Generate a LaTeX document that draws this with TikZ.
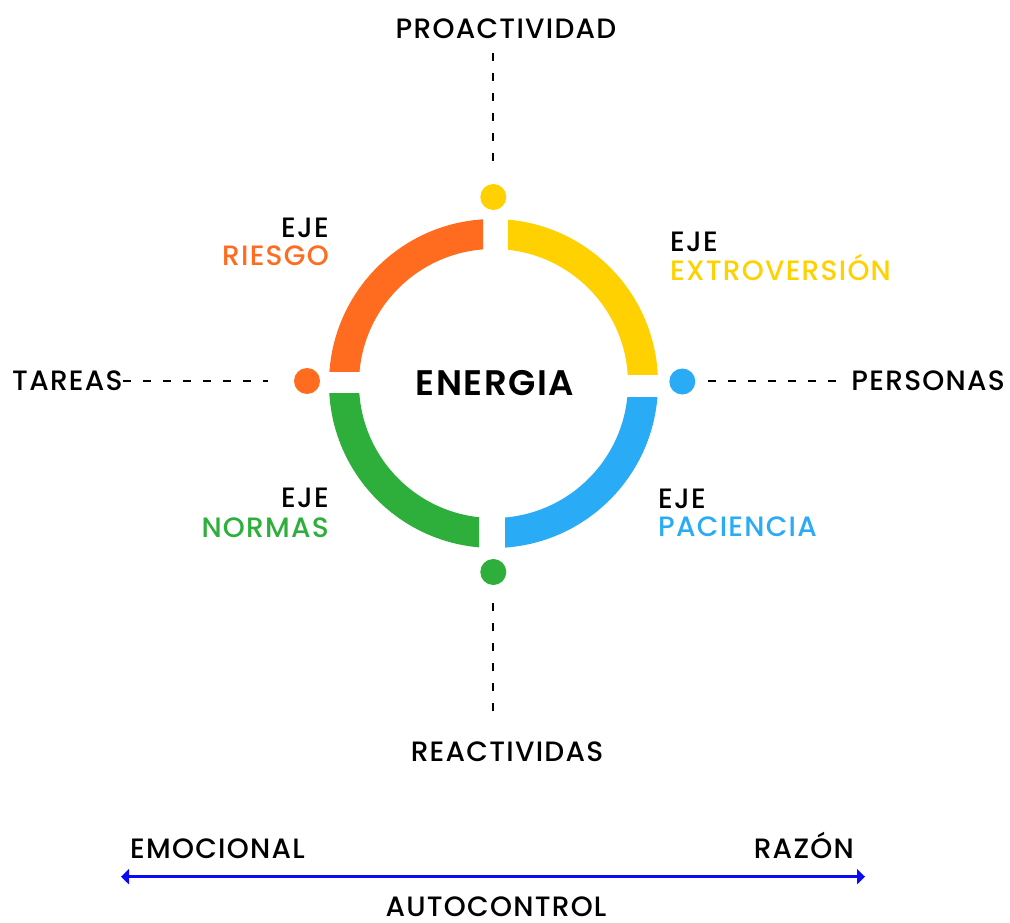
\documentclass[tikz,border=0pt]{standalone}
\usepackage{fontspec}
\setmainfont{Poppins}[UprightFont={* Medium}, BoldFont={* SemiBold}, LetterSpace=4.5]
\usetikzlibrary{arrows.meta}
\definecolor{cOrange}{HTML}{FF6B1F}
\definecolor{cYellow}{HTML}{FFD100}
\definecolor{cGreen}{HTML}{2EAF3B}
\definecolor{cBlue}{HTML}{29ABF6}
\definecolor{cArrow}{HTML}{0A0AF5}
\tikzset{
  lbl/.style={inner sep=0pt, font=\fontsize{28}{32}\selectfont, text=black},
  dotnode/.style={circle, inner sep=0pt, minimum size=26pt},
  dashline/.style={line width=2pt, dash pattern=on 8pt off 12pt},
  ring/.style={even odd rule},
}
\begin{document}
\begin{tikzpicture}[x=1pt,y=-1pt]
\useasboundingbox (0,0) rectangle (1010,923);
\coordinate (c) at (493.5,383.5);
% ring quadrants
\begin{scope}
  \clip (0,0) rectangle (483,371);
  \fill[cOrange, ring] (c) circle (164.5) (c) circle (134.5);
\end{scope}
\begin{scope}
  \clip (508,0) rectangle (1010,374);
  \fill[cYellow, ring] (c) circle (164.5) (c) circle (134.5);
\end{scope}
\begin{scope}
  \clip (505,397) rectangle (1010,923);
  \fill[cBlue, ring] (c) circle (164.5) (c) circle (134.5);
\end{scope}
\begin{scope}
  \clip (0,393) rectangle (479,923);
  \fill[cGreen, ring] (c) circle (164.5) (c) circle (134.5);
\end{scope}
% dots
\node[dotnode, fill=cYellow] (dtop) at (493.3,197) {};
\node[dotnode, fill=cBlue] (dright) at (682.3,381.5) {};
\node[dotnode, fill=cOrange] (dleft) at (307,381) {};
\node[dotnode, fill=cGreen] (dbot) at (493.3,572) {};
% labels
\node[lbl, anchor=base] (pro) at (506,38.3) {PROACTIVIDAD};
\node[lbl, anchor=base] (rea) at (507,761.7) {REACTIVIDAS};
\node[lbl, anchor=base west] (tar) at (12,390.7) {TAREAS};
\node[lbl, anchor=base east] (per) at (1005,390.7) {PERSONAS};
\node[inner sep=0pt, anchor=base, font=\fontsize{35.5}{40}\selectfont\bfseries] (ene) at (495,395.7) {ENERGIA};
\node[lbl, anchor=base east] (e1) at (329,237.7) {EJE};
\node[lbl, anchor=base east, text=cOrange] (riesgo) at (329,265.7) {RIESGO};
\node[lbl, anchor=base west] (e2) at (670,251.7) {EJE};
\node[lbl, anchor=base west, text=cYellow] (extro) at (670,280) {EXTROVERSIÓN};
\node[lbl, anchor=base east] (e3) at (329,507.7) {EJE};
\node[lbl, anchor=base east, text=cGreen] (normas) at (329,537.3) {NORMAS};
\node[lbl, anchor=base west] (e4) at (658,508) {EJE};
\node[lbl, anchor=base west, text=cBlue] (paci) at (658,536.7) {PACIENCIA};
% dashed connectors
\coordinate (ta) at (493.3,53);
\coordinate (tb) at (493.3,167);
\coordinate (ba) at (493.3,603);
\coordinate (bb) at (493.3,716);
\coordinate (la) at (268,381);
\coordinate (ra) at (708,381);
\coordinate (rb) at (838,381);
\draw[dashline] (ta) -- (tb);
\draw[dashline] (ba) -- (bb);
\draw[dashline] (tar.east |- la) -- (la);
\draw[dashline] (ra) -- (rb);
% bottom scale
\node[lbl, anchor=base west] (emo) at (130,858.3) {EMOCIONAL};
\node[lbl, anchor=base east] (raz) at (854,858.3) {RAZÓN};
\node[lbl, anchor=base] (auto) at (496,916.8) {AUTOCONTROL};
\coordinate (al) at (121,876.7);
\coordinate (ar) at (865,876.7);
\draw[cArrow, line width=3pt, {Triangle[length=8pt,width=15pt]}-{Triangle[length=8pt,width=15pt]}] (al) -- (ar);
\end{tikzpicture}
\end{document}
